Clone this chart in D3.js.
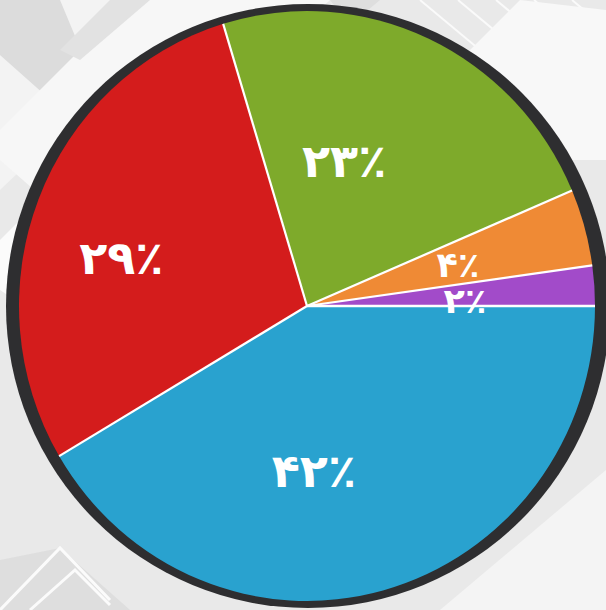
<!DOCTYPE html>
<html>
<head>
<meta charset="utf-8">
<script src="https://cdn.jsdelivr.net/npm/d3@7"></script>
<style>
html,body{margin:0;padding:0;background:#ebebeb;overflow:hidden;}
svg{display:block;}
</style>
</head>
<body>
<svg id="chart" width="606" height="610"></svg>
<script>
// ---- data ----
const categories = ["blue", "red", "green", "orange", "purple"];
const values = [41.5, 28.8, 23.3, 4.2, 2.2];
const labels = ["۴۲٪", "۲۹٪", "۲۳٪", "۴٪", "۲٪"];

// ---- styling / layout (not data) ----
const colors = ["#29a2cf", "#d41c1c", "#7eaa2b", "#ef8a35", "#a24bc9"];
const labelRadius = [165, 192, 150, 156.5, 158];
const labelAngleShift = [12.9, -6.5, -10.7, 0.2, 1.9]; // degrees
const labelSize = [46, 46, 46, 35, 35];

const W = 606, H = 610;
const svg = d3.select("#chart");

// background decoration
const bg = svg.append("g");
bg.append("rect").attr("width", W).attr("height", H).attr("fill", "#e9e9e9");
const white = "#f7f7f7";
// upper-left lattice
bg.append("polygon").attr("points", "0,0 120,0 200,0 0,190").attr("fill", "#f3f3f3");
bg.append("polygon").attr("points", "0,0 60,0 85,60 45,95 0,55").attr("fill", "#dcdcdc");
bg.append("polygon").attr("points", "130,0 330,0 80,230 0,160 0,130").attr("fill", white);
bg.append("polygon").attr("points", "0,240 40,200 120,300 60,330 0,290").attr("fill", "#fbfbfb");
bg.append("polygon").attr("points", "110,0 150,0 80,60 60,50").attr("fill", "#e2e2e2");
bg.append("polygon").attr("points", "330,0 380,0 350,25").attr("fill", "#dedede");
// upper-right stripes
for (let i = 0; i < 5; i++) {
  const x0 = 420 + i * 38;
  bg.append("line").attr("x1", x0).attr("y1", 0).attr("x2", x0 + 120).attr("y2", 100)
    .attr("stroke", "#fafafa").attr("stroke-width", 2);
}
bg.append("polygon").attr("points", "606,10 606,160 520,160 440,80 520,0").attr("fill", "#f8f8f8");
// bottom-left chevrons
bg.append("polygon").attr("points", "0,560 60,548 130,610 0,610").attr("fill", "#dedede");
bg.append("polyline").attr("points", "0,610 60,548 110,600").attr("fill", "none").attr("stroke", "#fbfbfb").attr("stroke-width", 3);
bg.append("polyline").attr("points", "30,610 75,570 110,605").attr("fill", "none").attr("stroke", "#fbfbfb").attr("stroke-width", 3);
bg.append("polygon").attr("points", "440,610 606,470 606,610").attr("fill", "#f4f4f4");

// dark rim
svg.append("circle").attr("cx", 308).attr("cy", 306).attr("r", 302).attr("fill", "#2e2e30");

// pie
const cx = 307, cy = 306, R = 288, sy = 1.024;
const pie = d3.pie().sort(null).value(d => d).startAngle(Math.PI / 2).endAngle(Math.PI / 2 + 2 * Math.PI);
const arcs = pie(values);
const arc = d3.arc().innerRadius(0).outerRadius(R);
const g = svg.append("g").attr("transform", `translate(${cx},${cy}) scale(1,${sy})`);
g.selectAll("path.slice").data(arcs).join("path")
  .attr("class", "slice")
  .attr("d", arc)
  .attr("fill", (d, i) => colors[i]);
// white separators
g.selectAll("line.sep").data(arcs).join("line")
  .attr("class", "sep")
  .attr("x1", 0).attr("y1", 0)
  .attr("x2", d => R * Math.sin(d.startAngle))
  .attr("y2", d => -R * Math.cos(d.startAngle))
  .attr("stroke", "#ffffff").attr("stroke-width", 2.2);

// labels
const lg = svg.append("g").attr("transform", `translate(${cx},${cy})`);
lg.selectAll("text").data(arcs).join("text")
  .attr("x", (d, i) => labelRadius[i] * Math.sin((d.startAngle + d.endAngle) / 2 + labelAngleShift[i] * Math.PI / 180))
  .attr("y", (d, i) => -labelRadius[i] * Math.cos((d.startAngle + d.endAngle) / 2 + labelAngleShift[i] * Math.PI / 180))
  .attr("dy", "0.36em")
  .attr("text-anchor", "middle")
  .attr("direction", "ltr")
  .attr("font-family", "'DejaVu Sans', sans-serif")
  .attr("font-weight", "bold")
  .attr("font-size", (d, i) => labelSize[i])
  .attr("fill", "#ffffff")
  .text((d, i) => labels[i]);
</script>
</body>
</html>
